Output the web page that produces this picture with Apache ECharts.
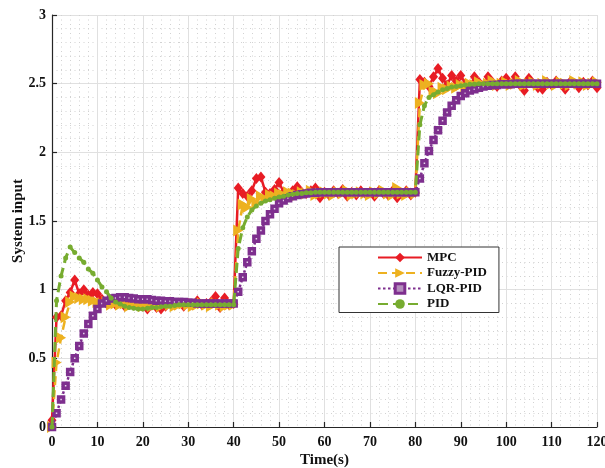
<!DOCTYPE html>
<html>
<head>
<meta charset="utf-8">
<script src="https://cdn.jsdelivr.net/npm/echarts@6/dist/echarts.min.js"></script>
<style>
  html, body { margin: 0; padding: 0; background: #fff; }
  #chart { width: 605px; height: 468px; }
</style>
</head>
<body>
<div id="chart"></div>
<script>
// Sampling grid: one sample per second, 0 … 120 s
const time = Array.from({ length: 121 }, (_, i) => i);

// Controller outputs (system input), one value per second
const mpc = [
  0.05, 0.80, 0.81, 0.92, 0.98, 1.07, 0.97, 1.00, 0.96, 0.98,
  0.97, 0.93, 0.90, 0.91, 0.89, 0.91, 0.88, 0.90, 0.89, 0.91,
  0.88, 0.86, 0.89, 0.87, 0.86, 0.88, 0.91, 0.89, 0.90, 0.88,
  0.90, 0.89, 0.92, 0.89, 0.90, 0.91, 0.95, 0.87, 0.94, 0.89,
  0.90, 1.74, 1.70, 1.68, 1.72, 1.81, 1.82, 1.71, 1.70, 1.73,
  1.78, 1.71, 1.69, 1.72, 1.75, 1.71, 1.70, 1.72, 1.74, 1.67,
  1.71, 1.69, 1.72, 1.70, 1.73, 1.68, 1.71, 1.69, 1.72, 1.70,
  1.71, 1.68, 1.72, 1.70, 1.69, 1.72, 1.67, 1.70, 1.72, 1.69,
  1.71, 2.53, 2.51, 2.48, 2.55, 2.61, 2.54, 2.49, 2.56, 2.52,
  2.56, 2.50, 2.47, 2.55, 2.51, 2.49, 2.55, 2.51, 2.48, 2.52,
  2.54, 2.50, 2.55, 2.49, 2.45, 2.54, 2.50, 2.47, 2.46, 2.51,
  2.49, 2.52, 2.50, 2.46, 2.51, 2.50, 2.47, 2.51, 2.49, 2.52,
  2.47
];

const fuzzyPid = [
  0.00, 0.47, 0.65, 0.80, 0.91, 0.95, 0.94, 0.93, 0.93, 0.92,
  0.91, 0.90, 0.91, 0.89, 0.90, 0.89, 0.90, 0.88, 0.90, 0.89,
  0.88, 0.89, 0.88, 0.89, 0.88, 0.90, 0.89, 0.88, 0.89, 0.90,
  0.89, 0.88, 0.89, 0.90, 0.89, 0.88, 0.90, 0.89, 0.88, 0.89,
  0.89, 1.43, 1.62, 1.60, 1.66, 1.63, 1.68, 1.66, 1.69, 1.68,
  1.70, 1.69, 1.71, 1.70, 1.69, 1.71, 1.70, 1.72, 1.69, 1.70,
  1.71, 1.70, 1.69, 1.71, 1.70, 1.72, 1.69, 1.70, 1.71, 1.70,
  1.69, 1.71, 1.70, 1.72, 1.70, 1.69, 1.74, 1.70, 1.69, 1.71,
  1.70, 2.36, 2.49, 2.50, 2.44, 2.43, 2.47, 2.46, 2.48, 2.47,
  2.49, 2.48, 2.50, 2.49, 2.51, 2.49, 2.50, 2.52, 2.49, 2.50,
  2.51, 2.49, 2.50, 2.52, 2.49, 2.50, 2.51, 2.49, 2.50, 2.52,
  2.50, 2.49, 2.51, 2.50, 2.49, 2.52, 2.50, 2.51, 2.49, 2.50,
  2.51
];

const lqrPid = [
  0.00, 0.10, 0.20, 0.30, 0.40, 0.50, 0.59, 0.68, 0.75, 0.81,
  0.86, 0.90, 0.92, 0.935, 0.94, 0.945, 0.945, 0.94, 0.935, 0.93,
  0.93, 0.93, 0.925, 0.92, 0.92, 0.915, 0.915, 0.91, 0.91, 0.91,
  0.905, 0.905, 0.90, 0.90, 0.90, 0.90, 0.90, 0.90, 0.90, 0.90,
  0.90, 0.985, 1.09, 1.20, 1.28, 1.37, 1.43, 1.50, 1.55, 1.59,
  1.63, 1.65, 1.665, 1.68, 1.69, 1.695, 1.70, 1.705, 1.705, 1.71,
  1.71, 1.71, 1.71, 1.71, 1.71, 1.71, 1.71, 1.71, 1.71, 1.71,
  1.71, 1.71, 1.71, 1.71, 1.71, 1.71, 1.71, 1.71, 1.71, 1.71,
  1.71, 1.81, 1.92, 2.01, 2.09, 2.16, 2.23, 2.29, 2.34, 2.38,
  2.41, 2.43, 2.45, 2.46, 2.47, 2.48, 2.485, 2.49, 2.49, 2.495,
  2.495, 2.495, 2.50, 2.50, 2.50, 2.50, 2.50, 2.50, 2.50, 2.50,
  2.50, 2.50, 2.50, 2.50, 2.50, 2.50, 2.50, 2.50, 2.50, 2.50,
  2.50
];

const pid = [
  0.00, 0.92, 1.10, 1.23, 1.31, 1.27, 1.23, 1.20, 1.15, 1.12,
  1.07, 1.02, 0.985, 0.94, 0.91, 0.895, 0.88, 0.87, 0.865, 0.86,
  0.86, 0.865, 0.87, 0.87, 0.875, 0.88, 0.88, 0.885, 0.89, 0.89,
  0.89, 0.89, 0.89, 0.89, 0.89, 0.89, 0.89, 0.89, 0.89, 0.89,
  0.89, 1.30, 1.45, 1.53, 1.58, 1.61, 1.63, 1.645, 1.655, 1.665,
  1.675, 1.68, 1.69, 1.695, 1.70, 1.70, 1.705, 1.705, 1.71, 1.71,
  1.71, 1.71, 1.71, 1.71, 1.71, 1.71, 1.71, 1.71, 1.71, 1.71,
  1.71, 1.71, 1.71, 1.71, 1.71, 1.71, 1.71, 1.71, 1.71, 1.71,
  1.71, 2.20, 2.34, 2.40, 2.42, 2.44, 2.455, 2.465, 2.475, 2.48,
  2.485, 2.49, 2.495, 2.495, 2.50, 2.50, 2.50, 2.50, 2.50, 2.50,
  2.50, 2.50, 2.50, 2.50, 2.50, 2.50, 2.50, 2.50, 2.50, 2.50,
  2.50, 2.50, 2.50, 2.50, 2.50, 2.50, 2.50, 2.50, 2.50, 2.50,
  2.50
];

const seriesNames = ['MPC', 'Fuzzy-PID', 'LQR-PID', 'PID'];
const xTicks = { min: 0, max: 120, interval: 10 };
const yTicks = { min: 0, max: 3, interval: 0.5 };

const pairs = (vals) => vals.map((v, i) => [time[i], v]);

const serif = '"Liberation Serif", "Times New Roman", serif';
const axisColor = '#262626';

const chart = echarts.init(document.getElementById('chart'), null, { renderer: 'canvas' });

const axisCommon = {
  type: 'value',
  axisLine: { show: true, onZero: false, lineStyle: { color: axisColor, width: 1.2 } },
  axisTick: { show: true, inside: true, length: 5, lineStyle: { color: axisColor, width: 1.2 } },
  splitLine: { show: true, lineStyle: { color: '#e0e0e0', width: 1 } },
  minorSplitLine: { show: true, lineStyle: { color: '#d2d2d2', width: 1, type: [1, 3.5] } },
  nameTextStyle: { fontFamily: serif, fontWeight: 'bold', fontSize: 15, color: '#111' },
  axisLabel: { fontFamily: serif, fontWeight: 'bold', fontSize: 14, color: '#111' }
};

chart.setOption({
  animation: false,
  backgroundColor: '#fff',
  grid: { left: 52, right: 8, top: 15, bottom: 41, containLabel: false, outerBoundsMode: 'none' },
  xAxis: Object.assign({}, axisCommon, {
    min: xTicks.min, max: xTicks.max, interval: xTicks.interval,
    minorTick: { show: false, splitNumber: 5 },
    name: 'Time(s)', nameLocation: 'middle', nameGap: 26, nameMoveOverlap: false,
    axisLabel: Object.assign({}, axisCommon.axisLabel, { margin: 8 })
  }),
  yAxis: Object.assign({}, axisCommon, {
    min: yTicks.min, max: yTicks.max, interval: yTicks.interval,
    minorTick: { show: false, splitNumber: 5 },
    name: 'System input', nameLocation: 'middle', nameGap: 26, nameMoveOverlap: false,
    axisLabel: Object.assign({}, axisCommon.axisLabel, { margin: 6 })
  }),
  legend: {
    data: [
      seriesNames[0],
      seriesNames[1],
      { name: seriesNames[2], itemStyle: { color: '#b48ebd', borderColor: '#7e2f8e', borderWidth: 3 } },
      seriesNames[3]
    ],
    orient: 'vertical',
    left: 339, top: 247,
    padding: [4, 12, 2, 38],
    itemWidth: 44, itemHeight: 12, itemGap: 2.5,
    backgroundColor: '#fff',
    borderColor: '#333', borderWidth: 1, borderRadius: 0,
    textStyle: { fontFamily: serif, fontWeight: 'bold', fontSize: 13, color: '#111', padding: [0, 0, 0, 0] }
  },
  series: [
    {
      name: seriesNames[0], type: 'line', data: pairs(mpc), z: 2,
      showAllSymbol: true, symbol: 'diamond', symbolSize: [9, 11],
      lineStyle: { color: '#e81c24', width: 2.5, type: 'solid' },
      itemStyle: { color: '#e81c24' }
    },
    {
      name: seriesNames[1], type: 'line', data: pairs(fuzzyPid), z: 3,
      showAllSymbol: true, symbol: 'triangle', symbolSize: [12, 10], symbolRotate: -90,
      lineStyle: { color: '#edb120', width: 2.5, type: [9, 5] },
      itemStyle: { color: '#edb120' }
    },
    {
      name: seriesNames[2], type: 'line', data: pairs(lqrPid), z: 4,
      showAllSymbol: true, symbol: 'rect', symbolSize: 5,
      lineStyle: { color: '#7e2f8e', width: 2.5, type: [2.5, 2.5] },
      itemStyle: { color: '#e6d6ea', borderColor: '#7e2f8e', borderWidth: 3.5 }
    },
    {
      name: seriesNames[3], type: 'line', data: pairs(pid), z: 5,
      showAllSymbol: true, symbol: 'circle', symbolSize: 5,
      lineStyle: { color: '#77ac30', width: 3, type: [10, 5] },
      itemStyle: { color: '#77ac30' }
    }
  ]
});
</script>
</body>
</html>
